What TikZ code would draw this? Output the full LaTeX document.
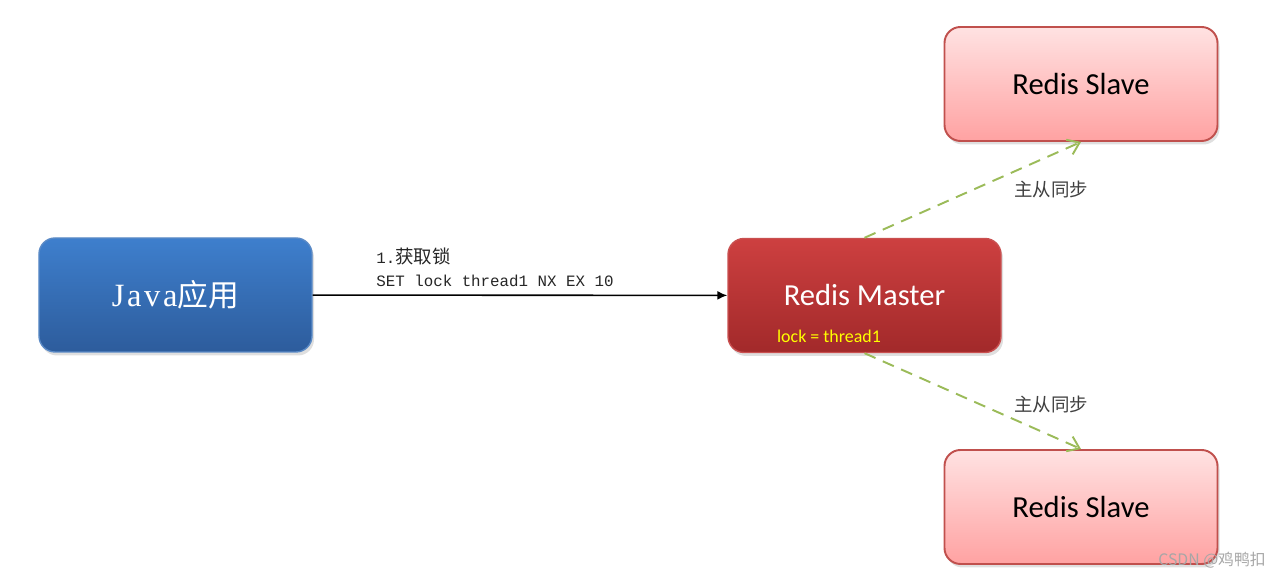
\documentclass[tikz,border=0pt]{standalone}
\usepackage{fontspec}
\setmainfont{Carlito}
\setmonofont{Liberation Mono}
\newfontfamily\cjk{Noto Sans CJK SC}
\newfontfamily\javafont[LetterSpace=8]{Liberation Serif}
\usetikzlibrary{arrows.meta,shadows}
\definecolor{javatop}{HTML}{3E7FCD}
\definecolor{javabot}{HTML}{2D5C9C}
\definecolor{javaedge}{HTML}{5A8AC6}
\definecolor{mastertop}{HTML}{CD4040}
\definecolor{masterbot}{HTML}{A2292A}
\definecolor{masteredge}{HTML}{C95050}
\definecolor{slavetop}{HTML}{FFE2E2}
\definecolor{slavebot}{HTML}{FFA2A2}
\definecolor{slaveedge}{HTML}{C0504D}
\definecolor{syncgreen}{HTML}{9BBB59}
\definecolor{locktext}{HTML}{FFFF00}

\begin{document}
\begin{tikzpicture}
\useasboundingbox (0,0) rectangle (25.54,11.56);
\tikzset{
  box/.style={rounded corners=0.32cm, minimum width=5.46cm, minimum height=2.28cm,
    line width=0.8pt, drop shadow={opacity=0.25, shadow xshift=0.04cm, shadow yshift=-0.07cm}},
  sync/.style={draw=syncgreen, line width=1.1pt, dash pattern=on 0.24cm off 0.16cm,
    -{Straight Barb[length=0.22cm, width=0.32cm]}},
  cmd/.style={font=\ttfamily\fontsize{9}{13}\selectfont, align=left, inner sep=0pt, text=black!85},
  note/.style={font=\cjk\fontsize{10.5}{12}\selectfont, text=black!75}
}
% boxes
\node[box, draw=javaedge, top color=javatop, bottom color=javabot, text=white,
  font=\fontsize{18.5}{20}\selectfont] (java) at (3.51,5.66) {{\javafont Java}{\cjk\fontsize{17.5}{20}\selectfont 应用}};
\node[box, draw=masteredge, top color=mastertop, bottom color=masterbot, text=white,
  font=\fontsize{17.4}{20}\selectfont] (master) at (17.29,5.65) {Redis Master};
\node[box, draw=slaveedge, line width=1.1pt, top color=slavetop, bottom color=slavebot, text=black,
  font=\fontsize{17.4}{20}\selectfont] (slave1) at (21.62,9.88) {Redis Slave};
\node[box, draw=slaveedge, line width=1.1pt, top color=slavetop, bottom color=slavebot, text=black,
  font=\fontsize{17.4}{20}\selectfont] (slave2) at (21.62,1.42) {Redis Slave};
\node[text=locktext, font=\fontsize{10.2}{12}\selectfont] (lock) at (16.58,4.84) {lock = thread1};

% connectors
\draw[line width=0.9pt, -{Latex[length=0.2cm, width=0.18cm]}] (java) -- (master);
\node[cmd, anchor=south west] (setcmd) at (7.52,5.82)
  {1.{\cjk\fontsize{10.5}{13}\selectfont 获取锁}\\SET lock thread1 NX EX 10};
\draw[sync] (master.north) -- (slave1.south);
\draw[sync] (master.south) -- (slave2.north);
\node[note] (sync1) at (21.02,7.76) {主从同步};
\node[note] (sync2) at (21.02,3.46) {主从同步};

% watermark
\node[font=\cjk\fontsize{9}{10}\selectfont, text=black!35] (mark) at (24.24,0.36) {CSDN @鸡鸭扣};
\end{tikzpicture}
\end{document}
